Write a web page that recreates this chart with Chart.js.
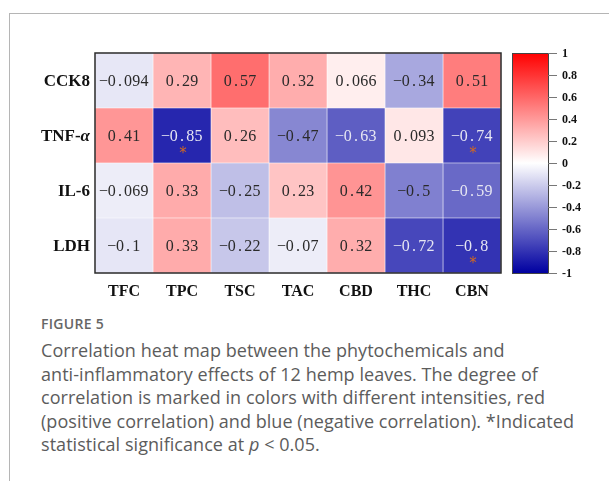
<!DOCTYPE html>
<html>
<head>
<meta charset="utf-8">
<script src="https://cdn.jsdelivr.net/npm/chart.js@4.4.1/dist/chart.umd.min.js"></script>
<style>
  html, body { margin: 0; padding: 0; background: #fff; }
  body { width: 609px; height: 481px; position: relative; overflow: hidden; }
  .frame { position: absolute; left: 9px; top: 13px; right: -2px; bottom: -2px;
           border-top: 1px solid #b5b5b5; border-left: 1px solid #b5b5b5; }
  #heat { position: absolute; left: 0; top: 0; }
  .fig { position: absolute; left: 41px; top: 316px; font: 600 14px/16px "Open Sans", sans-serif;
         color: #666; letter-spacing: 0.3px; }
  .cap { position: absolute; left: 41px; top: 339px; font: 400 18px/23.5px "Open Sans", sans-serif;
         color: #5c5c5c; white-space: nowrap; letter-spacing: 0.05px; }
</style>
</head>
<body>
<div class="frame"></div>
<canvas id="heat" width="609" height="310"></canvas>
<div class="fig">FIGURE 5</div>
<div class="cap">
  <div>Correlation heat map between the phytochemicals and</div>
  <div>anti-inflammatory effects of 12 hemp leaves. The degree of</div>
  <div>correlation is marked in colors with different intensities, red</div>
  <div>(positive correlation) and blue (negative correlation). *Indicated</div>
  <div>statistical significance at <i>p</i> &lt; 0.05.</div>
</div>
<script>
const rows = ["CCK8", "TNF-α", "IL-6", "LDH"];
const cols = ["TFC", "TPC", "TSC", "TAC", "CBD", "THC", "CBN"];

// correlation values, one array per row
const cck8 = [-0.094, 0.29, 0.57, 0.32, 0.066, -0.34, 0.51];
const tnf = [0.41, -0.85, 0.26, -0.47, -0.63, 0.093, -0.74];
const il6 = [-0.069, 0.33, -0.25, 0.23, 0.42, -0.5, -0.59];
const ldh = [-0.1, 0.33, -0.22, -0.07, 0.32, -0.72, -0.8];
const values = [cck8, tnf, il6, ldh];

// cells marked with * (p < 0.05)
const stars = [[], ["TPC", "CBN"], [], ["CBN"]];

const cbTicks = [1, 0.8, 0.6, 0.4, 0.2, 0, -0.2, -0.4, -0.6, -0.8, -1];
const cbLabels = ["1", "0.8", "0.6", "0.4", "0.2", "0", "-0.2", "-0.4", "-0.6", "-0.8", "-1"];

// where the plot box should sit
const boxTop = 53;
const boxBottom = 273;

function heat(v) {
  const t = Math.min(1, Math.abs(v));
  const rg = Math.round(255 * (1 - t));
  if (v >= 0) return `rgb(255,${rg},${rg})`;
  return `rgb(${rg},${rg},${Math.round(255 - 95 * t)})`;
}

function fmt(v) {
  return String(v).replace("-", "\u2212");
}

// simsun-like fixed pitch digits
function drawFixed(ctx, s, cx, cy) {
  const pitch = 8.2;
  const x0 = cx - (s.length * pitch) / 2 + pitch / 2;
  for (let i = 0; i < s.length; i++) ctx.fillText(s[i], x0 + i * pitch, cy);
}

const heatLabels = {
  id: "heatLabels",
  afterDatasetsDraw(chart) {
    const { ctx, chartArea: a } = chart;
    const { x, y } = chart.scales;
    ctx.save();
    ctx.textAlign = "center";
    ctx.textBaseline = "middle";
    values.forEach((row, ri) => {
      const cy = y.getPixelForValue(ri);
      row.forEach((v, ci) => {
        const cx = x.getPixelForValue(ci + 0.5);
        ctx.font = '16px "Liberation Serif"';
        ctx.fillStyle = v < -0.55 ? "#e6e6f2" : "#2a2a2a";
        drawFixed(ctx, fmt(v), cx, cy + 1.5);
        if (stars[ri].includes(cols[ci])) {
          ctx.font = '15px "DejaVu Sans"';
          ctx.fillStyle = "#d2691e";
          ctx.fillText("*", cx + 1, cy + 19);
        }
      });
    });

    // row names, with the greek letter in italic
    ctx.textAlign = "right";
    ctx.fillStyle = "#111";
    rows.forEach((name, ri) => {
      const cy = y.getPixelForValue(ri) + 1;
      const rx = a.left - 5;
      if (name.endsWith("α")) {
        ctx.font = 'italic bold 17px "Liberation Serif"';
        const w = ctx.measureText("α").width;
        ctx.fillText("α", rx, cy);
        ctx.font = 'bold 17px "Liberation Serif"';
        ctx.fillText(name.slice(0, -1), rx - w, cy);
      } else {
        ctx.font = 'bold 17px "Liberation Serif"';
        ctx.fillText(name, rx, cy);
      }
    });

    ctx.strokeStyle = "#2a2a2a";
    ctx.lineWidth = 1.5;
    ctx.strokeRect(a.left, a.top, a.width, a.height);

    // colour bar, same height as the plot box, -1 .. 1
    const top = a.top;
    const bot = a.bottom;
    const cbY = (v) => bot - ((v + 1) / 2) * (bot - top);
    const bx = a.right + 11;
    const bw = 36;
    const grad = ctx.createLinearGradient(0, bot, 0, top);
    for (let i = 0; i <= 20; i++) grad.addColorStop(i / 20, heat(-1 + i / 10));
    ctx.fillStyle = grad;
    ctx.fillRect(bx, top, bw, bot - top);
    ctx.strokeStyle = "#444";
    ctx.lineWidth = 1;
    ctx.strokeRect(bx + 0.5, top + 0.5, bw, bot - top);
    ctx.strokeStyle = "#777";
    ctx.fillStyle = "#111";
    ctx.textAlign = "left";
    ctx.font = 'bold 12px "Liberation Serif"';
    cbTicks.forEach((v, i) => {
      const py = Math.round(cbY(v)) + 0.5;
      ctx.beginPath();
      ctx.moveTo(bx + bw, py);
      ctx.lineTo(bx + bw + 9, py);
      ctx.stroke();
      ctx.fillText(cbLabels[i], bx + bw + 14, py);
    });
    ctx.restore();
  },
};

const chart = new Chart(document.getElementById("heat"), {
  type: "bar",
  data: {
    labels: rows,
    datasets: cols.map((c, ci) => ({
      label: c,
      data: rows.map(() => 1),
      backgroundColor: rows.map((_, ri) => heat(values[ri][ci])),
      borderColor: "#ffffff",
      borderWidth: 0.6,
      borderSkipped: false,
      barPercentage: 1,
      categoryPercentage: 1,
    })),
  },
  options: {
    indexAxis: "y",
    responsive: false,
    animation: false,
    layout: { padding: { top: 53, left: 0, right: 108, bottom: 0 } },
    plugins: { legend: { display: false }, tooltip: { enabled: false } },
    scales: {
      x: {
        type: "linear",
        stacked: true,
        min: 0,
        max: 7,
        grid: { display: false, drawTicks: false },
        border: { display: false },
        afterBuildTicks: (s) => {
          s.ticks = cols.map((_, i) => ({ value: i + 0.5 }));
        },
        afterFit: (s) => {
          s.height = 37;
        },
        ticks: {
          autoSkip: false,
          maxRotation: 0,
          padding: 9,
          color: "#111",
          font: { family: '"Liberation Serif"', size: 16, weight: "bold" },
          callback: (v, i) => cols[i],
        },
      },
      y: {
        stacked: true,
        grid: { display: false, drawTicks: false },
        border: { display: false },
        afterFit: (s) => {
          s.width = 95;
        },
        ticks: { display: false },
      },
    },
  },
  plugins: [heatLabels],
});

// nudge the layout padding so the plot box lands on boxTop / boxBottom
for (let k = 0; k < 2; k++) {
  const a = chart.chartArea;
  const pad = chart.config.options.layout.padding;
  if (Math.abs(a.top - boxTop) < 0.5 && Math.abs(a.bottom - boxBottom) < 0.5) break;
  pad.top += boxTop - a.top;
  pad.bottom += a.bottom - boxBottom;
  chart.update();
}
</script>
</body>
</html>
